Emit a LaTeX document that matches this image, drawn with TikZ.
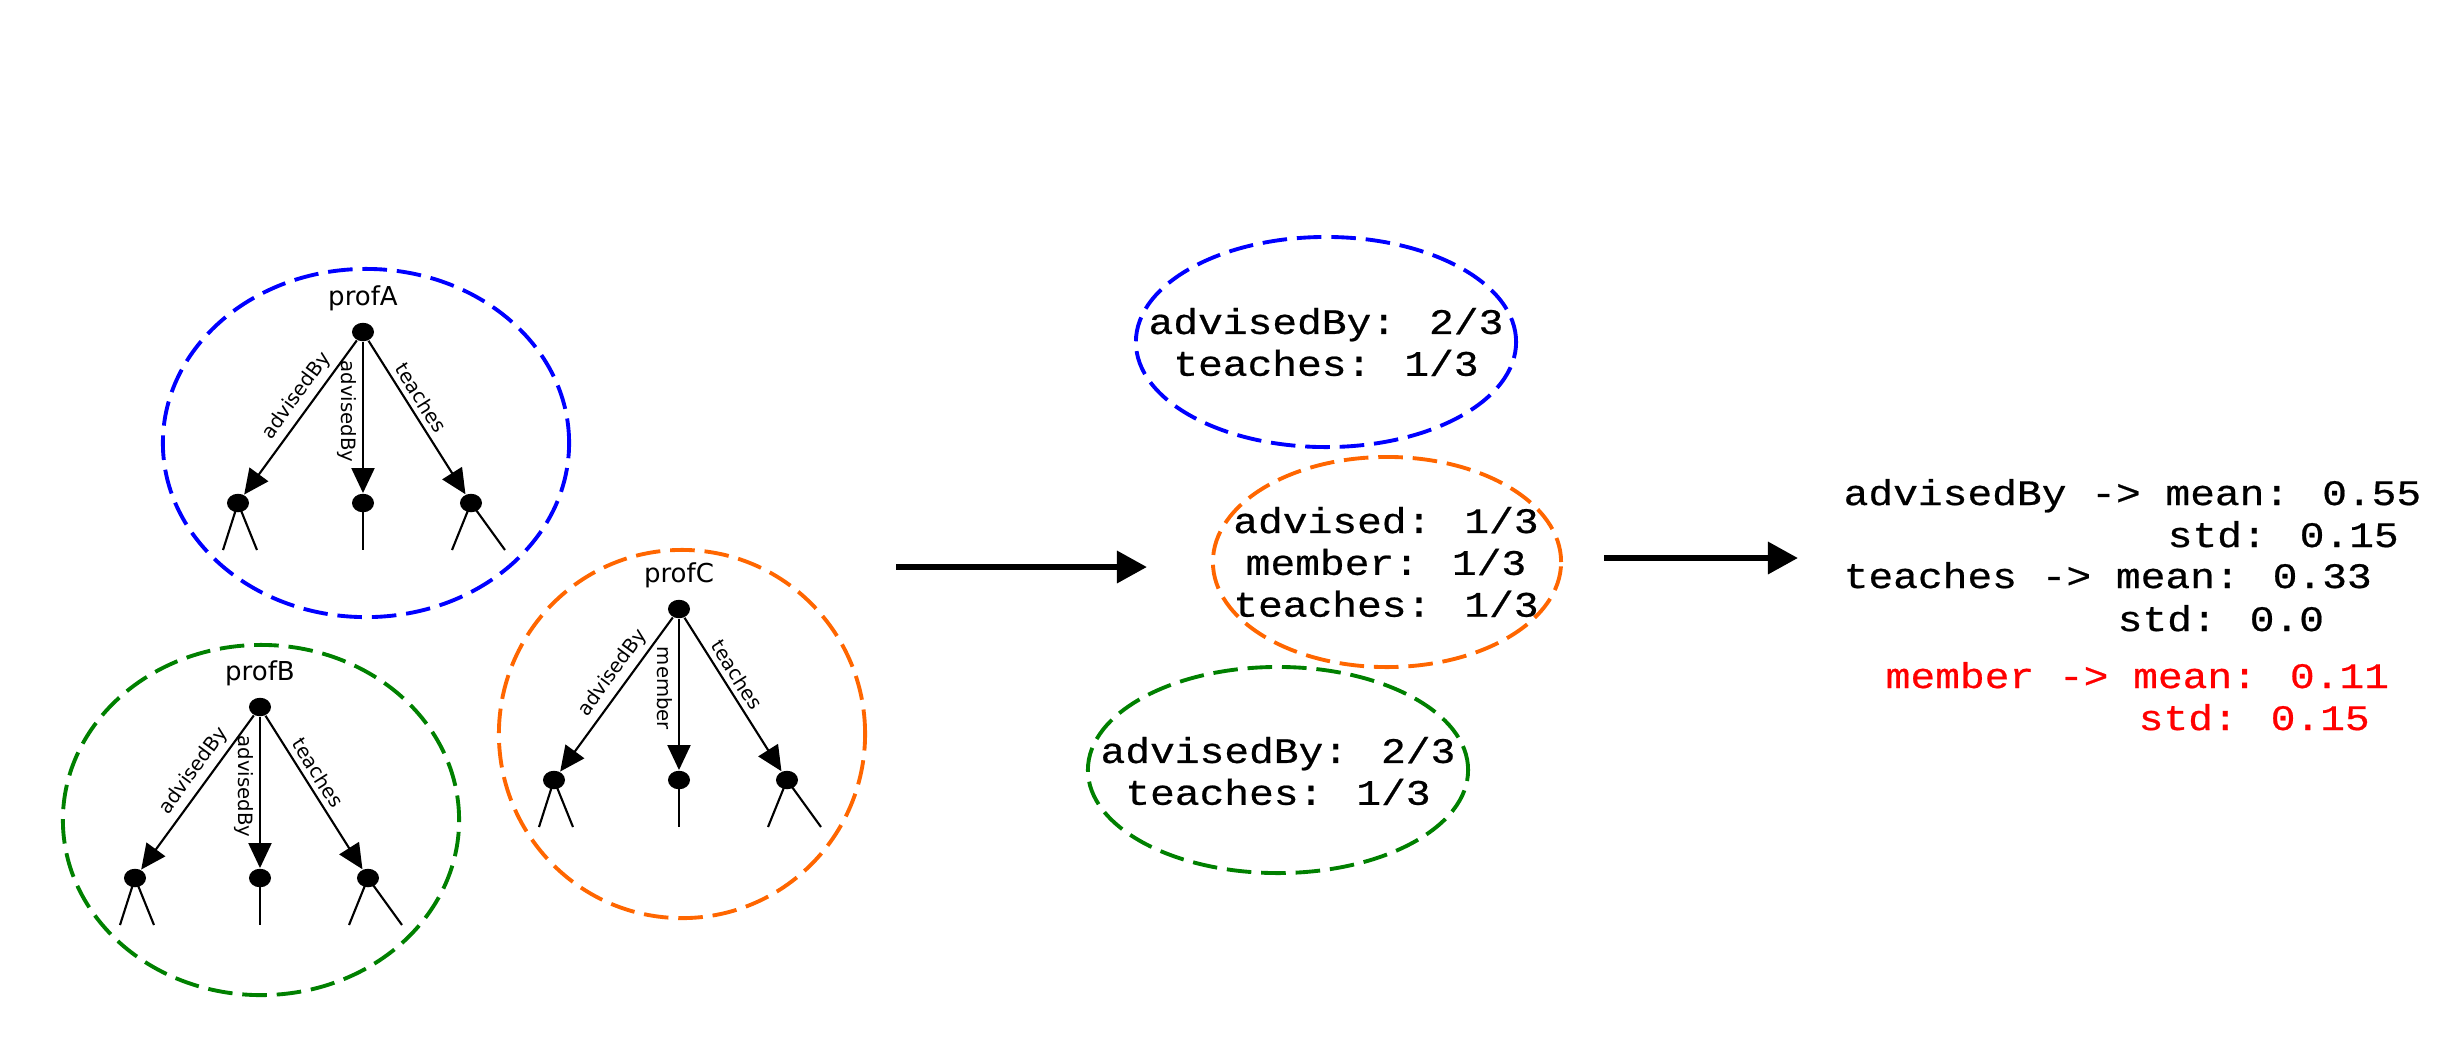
\documentclass[tikz,border=0pt]{standalone}
\usepackage{fontspec}
\setmainfont{DejaVu Sans}
\newfontfamily\monoft[FakeStretch=1.15,FakeBold=0.6]{Liberation Mono}
\usetikzlibrary{arrows.meta,shapes.geometric}
\definecolor{cblue}{RGB}{0,0,255}
\definecolor{cgreen}{RGB}{0,128,0}
\definecolor{corange}{RGB}{255,102,0}
\definecolor{cred}{RGB}{255,0,0}
\tikzset{
  dot/.style={ellipse, fill=black, inner sep=0pt, minimum width=0.22cm, minimum height=0.185cm},
  treeedge/.style={line width=0.6pt, -{Triangle[length=0.25cm,width=0.23cm]}},
  leg/.style={line width=0.6pt},
  elab/.style={font=\fontsize{5.6}{6.5}\selectfont, inner sep=1.5pt},
  pname/.style={font=\fontsize{7.4}{9}\selectfont, inner sep=0pt},
  grp/.style={ellipse, inner sep=0pt, dash pattern=on 7pt off 2.8pt, line width=1.1pt},
  stat/.style={font=\monoft\fontsize{10.2}{11.9}\selectfont, align=center, inner sep=0pt},
  res/.style={font=\monoft\fontsize{10.2}{11.9}\selectfont, inner sep=0pt, anchor=base west},
  bigarrow/.style={line width=1.8pt, -{Triangle[length=0.3cm,width=0.31cm]}},
}
% #1 prefix, #2 x, #3 y, #4 name, #5 middle label
\newcommand\proftree[5]{%
  \begin{scope}[shift={(#2,#3)}]
    \node[dot] (#1r) at (0,0) {};
    \node[pname] (#1n) at (0,-34) {#4};
    \node[dot] (#1l) at (-125,171) {};
    \node[dot] (#1m) at (0,171) {};
    \node[dot] (#1k) at (108,171) {};
    \coordinate (#1l1) at (-140,218);
    \coordinate (#1l2) at (-106,218);
    \coordinate (#1m1) at (0,218);
    \coordinate (#1k1) at (89,218);
    \coordinate (#1k2) at (142,218);
    \draw[treeedge] (#1r) -- node[elab, sloped, above, pos=0.42] {advisedBy} (#1l);
    \draw[treeedge] (#1r) -- node[elab, rotate=-90, anchor=north, pos=0.46] {#5} (#1m);
    \draw[treeedge] (#1r) -- node[elab, sloped, above, pos=0.42] {teaches} (#1k);
    \draw[leg] (#1l.center) -- (#1l1);
    \draw[leg] (#1l.center) -- (#1l2);
    \draw[leg] (#1m.center) -- (#1m1);
    \draw[leg] (#1k.center) -- (#1k1);
    \draw[leg] (#1k.center) -- (#1k2);
  \end{scope}}
\begin{document}
\begin{tikzpicture}[x=0.01cm, y=-0.01cm]
\useasboundingbox (0,0) rectangle (2453,1059);
% left group ellipses
\node[grp, draw=cblue, minimum width=4.06cm, minimum height=3.48cm] (gA) at (366,443) {};
\node[grp, draw=cgreen, minimum width=3.96cm, minimum height=3.50cm] (gB) at (261,820) {};
\node[grp, draw=corange, minimum width=3.66cm, minimum height=3.68cm] (gC) at (682,734) {};
\proftree{A}{363}{332}{profA}{advisedBy}
\proftree{B}{260}{707}{profB}{advisedBy}
\proftree{C}{679}{609}{profC}{member}
% middle
\node[grp, draw=cblue, minimum width=3.80cm, minimum height=2.10cm] (mA) at (1326,342) {};
\node[stat] (tA) at (1326,342) {advisedBy: 2/3\\teaches: 1/3};
\node[grp, draw=corange, minimum width=3.48cm, minimum height=2.10cm] (mC) at (1387,562) {};
\node[stat] (tC) at (1386,562) {advised: 1/3\\member: 1/3\\teaches: 1/3};
\node[grp, draw=cgreen, minimum width=3.80cm, minimum height=2.06cm] (mB) at (1278,770) {};
\node[stat] (tB) at (1278,771) {advisedBy: 2/3\\teaches: 1/3};
% arrows
\coordinate (a1s) at (896,567);
\coordinate (a1e) at (1147,567);
\coordinate (a2s) at (1604,558);
\coordinate (a2e) at (1798,558);
\draw[bigarrow] (a1s) -- (a1e);
\draw[bigarrow] (a2s) -- (a2e);
% results
\node[res] (r1) at (1843,505) {advisedBy -> mean: 0.55};
\node[res] (r2) at (2167,547) {std: 0.15};
\node[res] (r3) at (1843,588) {teaches -> mean: 0.33};
\node[res] (r4) at (2117,631) {std: 0.0};
\node[res, text=cred] (r5) at (1885,688) {member -> mean: 0.11};
\node[res, text=cred] (r6) at (2138,730) {std: 0.15};
\end{tikzpicture}
\end{document}
